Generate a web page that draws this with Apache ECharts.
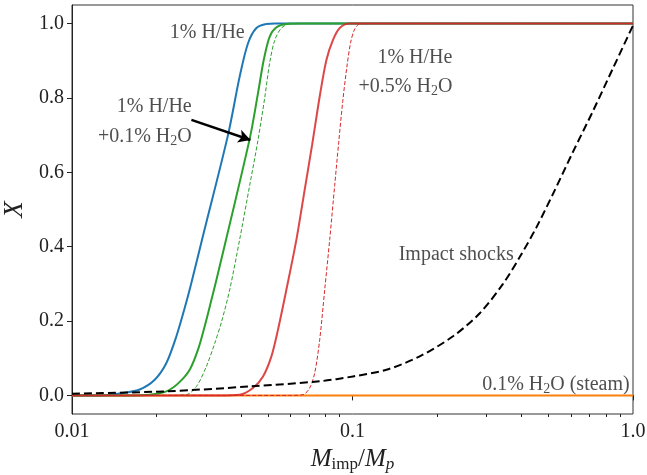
<!DOCTYPE html>
<html>
<head>
<meta charset="utf-8">
<script src="https://cdn.jsdelivr.net/npm/echarts@6/dist/echarts.min.js"></script>
<style>
  html, body { margin: 0; padding: 0; background: #fff; }
</style>
</head>
<body>
<div id="chart" style="width: 647px; height: 475px;"></div>
<script>
// axis ticks
const xTickValues = [0.01, 0.1, 1];
const xTickLabels = ['0.01', '0.1', '1.0'];
const xMinorTicks = [0.02, 0.03, 0.04, 0.05, 0.06, 0.07, 0.08, 0.09, 0.2, 0.3, 0.4, 0.5, 0.6, 0.7, 0.8, 0.9];
const yTickValues = [0, 0.2, 0.4, 0.6, 0.8, 1.0];

// 1% H/He (blue)
const blueX = [0.01, 0.01255, 0.01479, 0.01743, 0.01972, 0.0217, 0.02356, 0.02522, 0.02643, 0.02955, 0.03598, 0.03962, 0.04242, 0.04544, 0.04932, 0.05281, 1.0];
const blueY = [0, 0, 0.005, 0.016, 0.042, 0.087, 0.159, 0.235, 0.292, 0.44, 0.70, 0.858, 0.947, 0.988, 0.999, 1, 1];

// 1% H/He + 0.1% H2O (green solid)
const greenX = [0.01, 0.01606, 0.01892, 0.0217, 0.02396, 0.02628, 0.02813, 0.02972, 0.03141, 0.03273, 0.0430, 0.04604, 0.04825, 0.05068, 0.05355, 0.05811, 0.06483, 1.0];
const greenY = [0, 0, 0.002, 0.011, 0.033, 0.069, 0.123, 0.186, 0.257, 0.311, 0.69, 0.813, 0.902, 0.965, 0.99, 0.999, 1, 1];

// green dashed
const greenDashX = [0.01, 0.0223, 0.02557, 0.02777, 0.03013, 0.03227, 0.03418, 0.03649, 0.03962, 0.0430, 0.04604, 0.04864, 0.05068, 0.05281, 0.05579, 0.05971, 0.06483, 1.0];
const greenDashY = [0, 0, 0.002, 0.024, 0.078, 0.14, 0.2, 0.284, 0.42, 0.565, 0.687, 0.8, 0.895, 0.955, 0.988, 0.999, 1, 1];

// 1% H/He + 0.5% H2O (red solid)
const redX = [0.01, 0.03363, 0.03962, 0.04418, 0.04797, 0.05139, 0.05425, 0.05811, 0.0631, 0.06753, 0.07183, 0.0764, 0.08072, 0.08521, 0.09003, 0.09772, 1.0];
const redY = [0, 0, 0.002, 0.02, 0.051, 0.105, 0.177, 0.284, 0.419, 0.553, 0.675, 0.804, 0.902, 0.956, 0.988, 1, 1];

// red dashed
const redDashX = [0.01, 0.05971, 0.0666, 0.07037, 0.07332, 0.0764, 0.0796, 0.08293, 0.0864, 0.08928, 0.09228, 0.09535, 0.09853, 0.1018, 0.1061, 0.1133, 1.0];
const redDashY = [0, 0, 0.002, 0.02, 0.06, 0.15, 0.284, 0.419, 0.565, 0.68, 0.79, 0.88, 0.95, 0.985, 0.999, 1, 1];

// impact shocks (black dashed)
const shockX = [0.01, 0.0217, 0.043, 0.0764, 0.1004, 0.1321, 0.1736, 0.2282, 0.2842, 0.344, 0.3946, 0.4525, 0.5186, 0.611, 0.7202, 0.8486, 1.0];
const shockY = [0.0046, 0.011, 0.024, 0.038, 0.051, 0.069, 0.105, 0.159, 0.221, 0.30, 0.372, 0.452, 0.542, 0.655, 0.765, 0.88, 0.995];

// 0.1% H2O steam (orange)
const steamX = [0.01, 1.0];
const steamY = [0, 0];

const serif = '"Liberation Serif", "DejaVu Serif", serif';
const zip = (xs, ys) => xs.map((x, i) => [x, ys[i]]);

const textRich = {
  t: { fontFamily: serif, fontSize: 20, color: '#222', lineHeight: 24 },
  s: { fontFamily: serif, fontSize: 14, color: '#222', lineHeight: 14, verticalAlign: 'bottom' }
};

function curve(name, xs, ys, color, width, type, opacity) {
  return {
    name: name,
    type: 'line',
    data: zip(xs, ys),
    showSymbol: false,
    smooth: 0.3,
    silent: true,
    lineStyle: { color: color, width: width, type: type, opacity: opacity == null ? 1 : opacity },
    itemStyle: { color: color }
  };
}

function note(x, y, text) {
  return { value: [x, y], label: { formatter: text } };
}

const chart = echarts.init(document.getElementById('chart'));

const option = {
  animation: false,
  backgroundColor: '#fff',
  grid: {
    left: 72, right: 14, top: 5, bottom: 61,
    containLabel: false, outerBoundsMode: 'none',
    show: true, borderColor: '#333', borderWidth: 1, backgroundColor: 'transparent'
  },
  xAxis: [
    {
      type: 'log',
      logBase: 10,
      min: 0.01,
      max: 1,
      position: 'bottom',
      axisLine: { show: true, lineStyle: { color: '#222', width: 1 } },
      axisTick: { show: true, customValues: xTickValues, length: 5, lineStyle: { color: '#222' } },
      axisLabel: {
        customValues: xTickValues,
        formatter: v => xTickLabels[Math.round(Math.log10(v)) + 2],
        fontFamily: serif,
        fontSize: 20,
        color: '#222',
        margin: 8
      },
      splitLine: { show: false },
      name: '{i|M}{sub|imp}{t|/}{i|M}{subi|p}',
      nameLocation: 'middle',
      nameGap: 31,
      nameTextStyle: {
        rich: {
          i: { fontFamily: serif, fontStyle: 'italic', fontSize: 25, color: '#222', lineHeight: 28 },
          t: { fontFamily: serif, fontSize: 25, color: '#222', lineHeight: 28 },
          sub: { fontFamily: serif, fontSize: 17, color: '#222', lineHeight: 16, verticalAlign: 'bottom' },
          subi: { fontFamily: serif, fontStyle: 'italic', fontSize: 17, color: '#222', lineHeight: 16, verticalAlign: 'bottom' }
        }
      }
    },
    {
      type: 'log',
      logBase: 10,
      min: 0.01,
      max: 1,
      position: 'bottom',
      offset: 0,
      axisLine: { show: false },
      axisTick: { show: true, customValues: xMinorTicks, length: 3, lineStyle: { color: '#222' } },
      axisLabel: { show: false },
      splitLine: { show: false }
    }
  ],
  yAxis: {
    type: 'value',
    min: -0.05,
    max: 1.05,
    axisLine: { show: true, lineStyle: { color: '#222', width: 1 } },
    axisTick: { show: true, customValues: yTickValues, length: 5, lineStyle: { color: '#222' } },
    axisLabel: {
      customValues: yTickValues,
      formatter: v => v.toFixed(1),
      fontFamily: serif,
      fontSize: 20,
      color: '#222',
      margin: 8
    },
    splitLine: { show: false },
    name: 'X',
    nameLocation: 'middle',
    nameRotate: 90,
    nameGap: 41,
    nameTextStyle: { fontFamily: serif, fontStyle: 'italic', fontSize: 27, color: '#222' }
  },
  series: [
    curve('0.1% H2O (steam)', steamX, steamY, '#ff7f0e', 2),
    curve('1% H/He', blueX, blueY, '#1f77b4', 2),
    curve('1% H/He +0.1% H2O', greenX, greenY, '#2ca02c', 2),
    curve('1% H/He +0.1% H2O (dashed)', greenDashX, greenDashY, '#2ca02c', 1, [4, 2]),
    curve('1% H/He +0.5% H2O', redX, redY, '#d62728', 2, 'solid', 0.85),
    curve('1% H/He +0.5% H2O (dashed)', redDashX, redDashY, '#d62728', 1, [4, 2]),
    curve('Impact shocks', shockX, shockY, '#000', 2, [8, 4]),
    {
      name: 'notes',
      type: 'scatter',
      symbolSize: 0,
      silent: true,
      label: {
        show: true,
        position: [0, 0],
        align: 'right',
        verticalAlign: 'middle',
        rich: textRich
      },
      data: [
        note(0.04128, 0.975, '{t|1% H/He}'),
        note(0.02672, 0.776, '{t|1% H/He}'),
        note(0.02672, 0.696, '{t|+0.1% H}{s|2}{t|O}'),
        note(0.2271, 0.908, '{t|1% H/He}'),
        note(0.2271, 0.830, '{t|+0.5% H}{s|2}{t|O}'),
        note(0.3755, 0.378, '{t|Impact shocks}'),
        note(0.973, 0.029, '{t|0.1% H}{s|2}{t|O (steam)}')
      ],
      markLine: {
        silent: true,
        symbol: ['none', 'arrow'],
        symbolSize: [10, 12],
        label: { show: false },
        lineStyle: { color: '#000', width: 2.5, type: 'solid' },
        data: [[{ coord: [0.02665, 0.741] }, { coord: [0.04325, 0.687] }]]
      }
    }
  ]
};

chart.setOption(option);
</script>
</body>
</html>
